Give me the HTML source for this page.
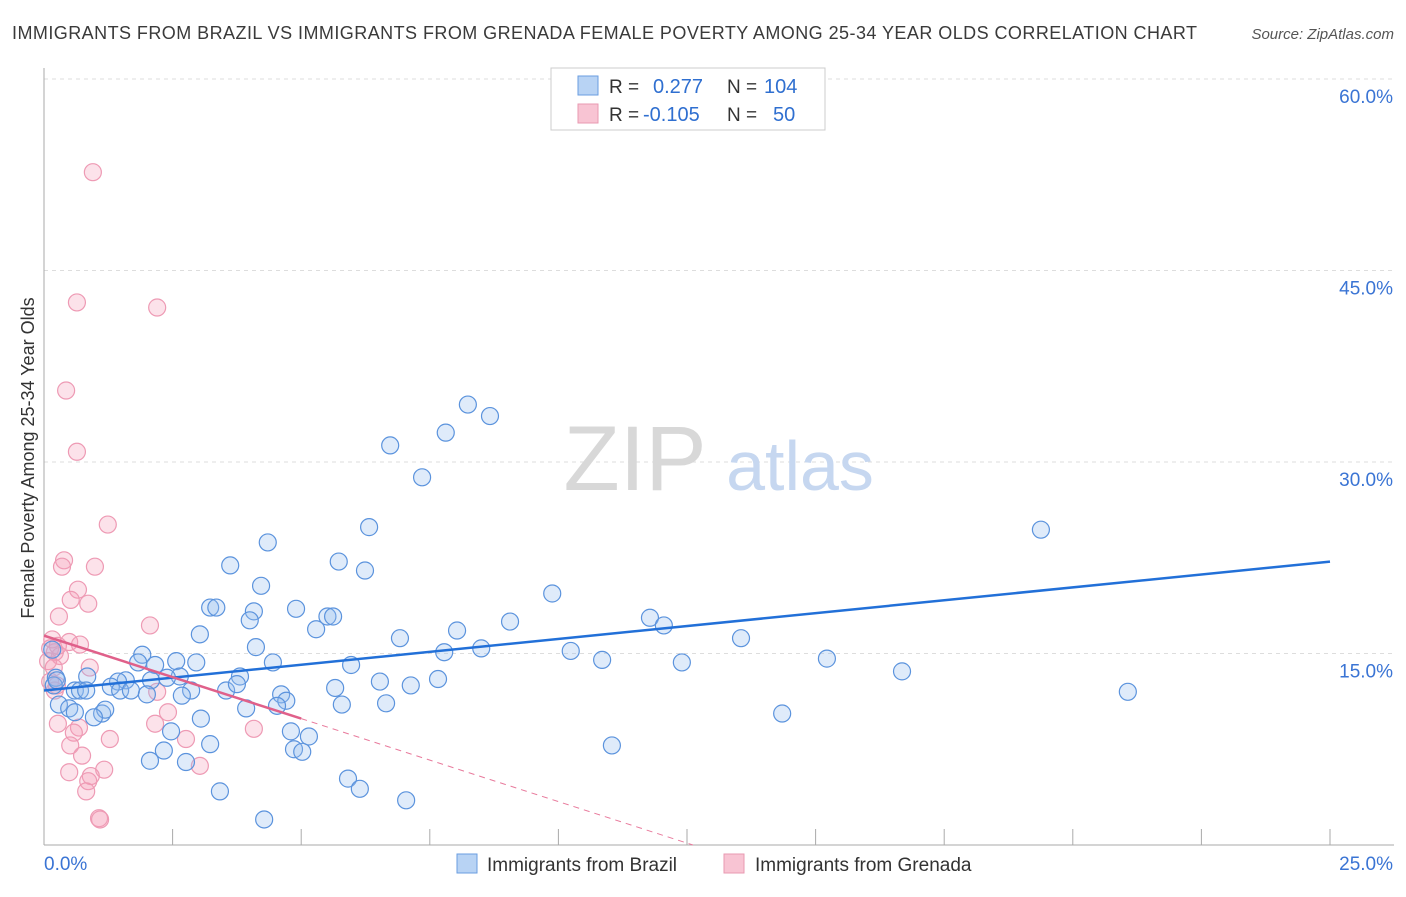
<!DOCTYPE html>
<html><head><meta charset="utf-8"><style>
body{margin:0;background:#fff;font-family:"Liberation Sans",sans-serif;}
svg text{font-family:"Liberation Sans",sans-serif;}
</style></head><body>
<svg width="1406" height="892" id="chart">
<text x="12" y="39" font-size="18" fill="#3a3a3a" textLength="1185" lengthAdjust="spacing">IMMIGRANTS FROM BRAZIL VS IMMIGRANTS FROM GRENADA FEMALE POVERTY AMONG 25-34 YEAR OLDS CORRELATION CHART</text>
<text x="1394" y="39" font-size="15" fill="#555" text-anchor="end" font-style="italic">Source: ZipAtlas.com</text>
<text x="34" y="458" font-size="18" fill="#333" text-anchor="middle" transform="rotate(-90 34 458)">Female Poverty Among 25-34 Year Olds</text>
<g id="grid"></g>
<g id="watermark">
<text x="635" y="490" font-size="92" fill="#d8d8d8" font-family="Liberation Serif" text-anchor="middle">ZIP</text>
<text x="800" y="490" font-size="70" fill="#c6d7f0" text-anchor="middle">atlas</text>
</g>
<g id="marks"></g>
<g id="lines"></g>
<g>
<rect x="551" y="68" width="274" height="62" fill="#fff" stroke="#ccc"/>
<rect x="578" y="76" width="20" height="19" fill="#b8d3f4" stroke="#6a9ee0"/>
<rect x="578" y="104" width="20" height="19" fill="#f8c4d3" stroke="#e89ab2"/>
<text x="609" y="93" font-size="19" fill="#333">R = </text><text x="653" y="93" font-size="20" fill="#2f6fd0">0.277</text>
<text x="727" y="93" font-size="19" fill="#333">N = </text><text x="764" y="93" font-size="20" fill="#2f6fd0">104</text>
<text x="609" y="121" font-size="19" fill="#333">R = </text><text x="643" y="121" font-size="20" fill="#2f6fd0">-0.105</text>
<text x="727" y="121" font-size="19" fill="#333">N = </text><text x="773" y="121" font-size="20" fill="#2f6fd0">50</text>
</g>
<g>
<rect x="457" y="854" width="20" height="19" fill="#b8d3f4" stroke="#6a9ee0"/>
<text x="487" y="871" font-size="19" fill="#333">Immigrants from Brazil</text>
<rect x="724" y="854" width="20" height="19" fill="#f8c4d3" stroke="#e89ab2"/>
<text x="755" y="871" font-size="19" fill="#333">Immigrants from Grenada</text>
</g>
</svg>
<script>
const xTicks=[0,2.5,5,7.5,10,12.5,15,17.5,20,22.5,25];
const yTicks=[15,30,45,60];
const yTickLabels=["15.0%","30.0%","45.0%","60.0%"];
const brazilX=[8.24,8.67,7.81,6.73,7.35,6.32,19.38,4.35,5.73,3.62,6.24,4.22,9.88,3.23,3.35,4.90,4.08,5.51,5.62,4.00,9.06,11.78,12.05,5.29,8.03,3.03,6.92,13.55,4.12,1.91,7.78,8.50,10.24,10.85,15.22,12.40,16.68,5.97,4.45,2.96,2.57,2.16,1.83,2.64,2.39,1.59,1.44,2.08,3.81,0.84,0.23,0.19,0.60,0.70,0.82,1.30,1.48,1.69,2.86,3.54,3.75,5.66,6.53,7.13,7.66,21.07,2.00,2.68,4.61,4.71,3.93,5.79,6.65,4.53,0.29,0.49,0.60,1.13,1.19,0.97,3.05,14.35,4.80,5.15,2.47,3.23,11.04,2.33,4.86,5.02,2.06,2.76,5.91,6.14,3.42,7.04,4.28,0.16,0.25];
const brazilY=[34.5,33.6,32.3,31.3,28.8,24.9,24.7,23.7,22.2,21.9,21.5,20.3,19.7,18.6,18.6,18.5,18.3,17.9,17.9,17.6,17.5,17.8,17.2,16.9,16.8,16.5,16.2,16.2,15.5,14.9,15.1,15.4,15.2,14.5,14.6,14.3,13.6,14.1,14.3,14.3,14.4,14.1,14.3,13.2,13.1,12.9,12.8,12.9,13.2,13.2,13.1,12.5,12.1,12.1,12.1,12.4,12.1,12.1,12.1,12.1,12.6,12.3,12.8,12.5,13.0,12.0,11.8,11.7,11.8,11.3,10.7,11.0,11.1,10.9,11.0,10.7,10.4,10.3,10.6,10.0,9.9,10.3,8.9,8.5,8.9,7.9,7.8,7.4,7.5,7.3,6.6,6.5,5.2,4.4,4.2,3.5,2.0,15.3,12.9];
const grenadaX=[0.95,0.64,2.20,0.43,0.64,1.24,0.39,0.35,0.99,0.66,0.52,0.86,0.29,2.06,0.49,0.70,0.12,0.21,0.31,0.08,0.27,0.89,0.19,0.12,0.21,2.20,2.41,0.27,0.68,0.58,2.16,1.28,2.76,4.08,0.51,0.74,3.03,0.49,1.17,0.91,0.86,0.82,1.07,1.09,0.25,0.16];
const grenadaY=[52.7,42.5,42.1,35.6,30.8,25.1,22.3,21.8,21.8,20.0,19.2,18.9,17.9,17.2,15.9,15.7,15.4,15.1,14.8,14.4,15.6,13.9,13.9,12.8,12.1,12.0,10.4,9.5,9.2,8.8,9.5,8.3,8.3,9.1,7.8,7.0,6.2,5.7,5.9,5.4,5.0,4.2,2.1,2.0,12.5,16.1];
const brazilFit=[12.1,22.2];
const grenadaFit=[16.4,9.9];
const NS="http://www.w3.org/2000/svg";
const X0=44,X1=1330,Y0=845,YPX=191.5/15;
const sx=v=>X0+(v/25)*(X1-X0);
const sy=v=>Y0-v*YPX;
function mk(t,a,p){const e=document.createElementNS(NS,t);for(const k in a)e.setAttribute(k,a[k]);p.appendChild(e);return e;}
const grid=document.getElementById('grid');
yTicks.forEach((t,i)=>{
 const l=mk('line',{x1:X0,x2:1394,y1:sy(t),y2:sy(t),stroke:'#ddd','stroke-dasharray':'4,4'},grid);
 
 
 const tx=mk('text',{x:1393,y:sy(t)+24,'font-size':19,fill:'#3a74d4','text-anchor':'end'},grid);
 tx.textContent=yTickLabels[i];
 
 
});
const ax=mk('line',{x1:X0,x2:X0,y1:68,y2:Y0,stroke:'#aaa'},grid);


const bx=mk('line',{x1:X0,x2:1394,y1:Y0,y2:Y0,stroke:'#aaa'},grid);


xTicks.forEach(t=>{
 const l=mk('line',{x1:sx(t),x2:sx(t),y1:Y0,y2:Y0-16,stroke:'#aaa'},grid);
 
 
});
const xl0=mk('text',{x:44,y:870,'font-size':19,fill:'#3a74d4'},grid);xl0.textContent='0.0%';


const xl1=mk('text',{x:1393,y:870,'font-size':19,fill:'#3a74d4','text-anchor':'end'},grid);xl1.textContent='25.0%';


const marks=document.getElementById('marks');
grenadaX.forEach((v,i)=>{
 const c=mk('circle',{cx:sx(v),cy:sy(grenadaY[i]),r:8.5,fill:'rgba(244,160,185,0.3)',stroke:'#ee9ab4','stroke-width':1.2},marks);
 
 
});
brazilX.forEach((v,i)=>{
 const c=mk('circle',{cx:sx(v),cy:sy(brazilY[i]),r:8.5,fill:'rgba(150,190,240,0.3)',stroke:'#5b93dd','stroke-width':1.2},marks);
 
 
});
const lines=document.getElementById('lines');
const bl=mk('line',{x1:sx(0),y1:sy(brazilFit[0]),x2:sx(25),y2:sy(brazilFit[1]),stroke:'#2270d8','stroke-width':2.5},lines);


const slope=(grenadaFit[1]-grenadaFit[0])/5;
const xz=-grenadaFit[0]/slope;
const gd=mk('line',{x1:sx(5),y1:sy(grenadaFit[1]),x2:sx(xz),y2:sy(0),stroke:'#e87a9c','stroke-width':1,'stroke-dasharray':'6,5'},lines);


const gl=mk('line',{x1:sx(0),y1:sy(grenadaFit[0]),x2:sx(5),y2:sy(grenadaFit[1]),stroke:'#e0608a','stroke-width':2.5},lines);


</script>
</body></html>
